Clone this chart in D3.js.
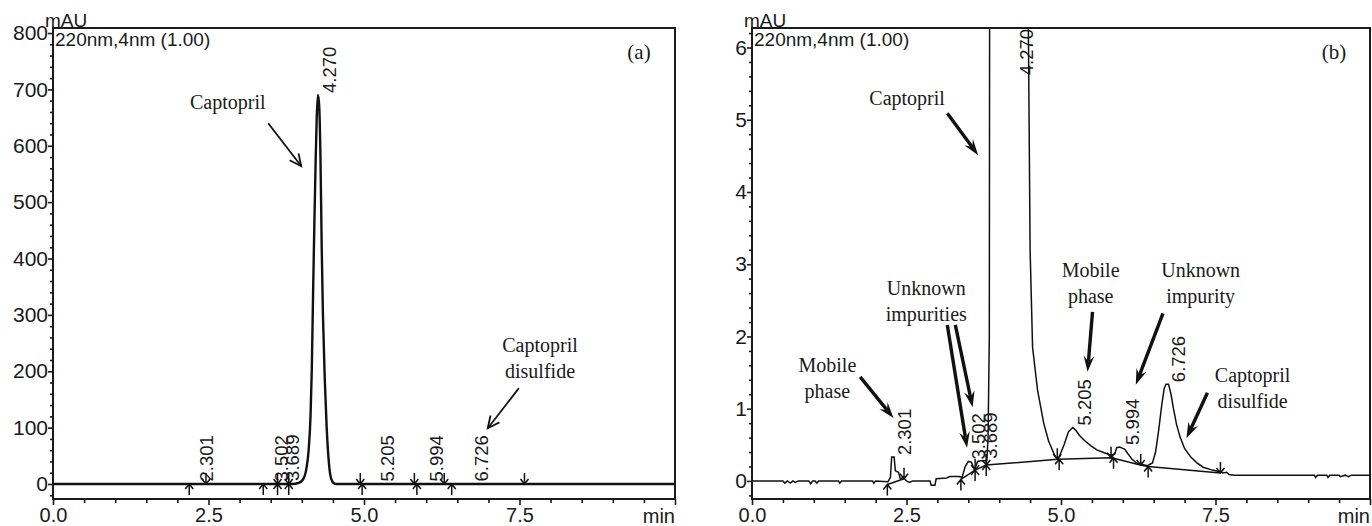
<!DOCTYPE html>
<html>
<head>
<meta charset="utf-8">
<script src="https://cdn.jsdelivr.net/npm/d3@7"></script>
<style>
  body { margin: 0; background: #fff; }
  svg text { font-family: "Liberation Sans", Arial, sans-serif; fill: #1a1a1a; }
  svg text.serif { font-family: "Liberation Serif", "Times New Roman", serif; }
</style>
</head>
<body>
<div id="chart"></div>
<script>
var svg;
var w = 1372, h = 526;

/*
 * Data (time in min, signal in mAU)
 */
var xTicks = [0, 2.5, 5, 7.5];
var yTicksA = [0, 100, 200, 300, 400, 500, 600, 700, 800];
var yTicksB = [0, 1, 2, 3, 4, 5, 6];

var peakTimes = [2.301, 3.502, 3.689, 4.270, 5.205, 5.994, 6.726];
var peakTopsA = [1, 1, 2, 690, 1, 1, 1];
var peakTopsB = [0.33, 0.27, 0.28, 700, 0.74, 0.47, 1.34];

// integration marks (peak start / peak end)
var startTimes = [2.19, 3.38, 3.61, 3.79, 4.97, 5.85, 6.41];
var endTimes = [2.46, 3.61, 3.79, 4.94, 5.81, 6.29, 7.58];
var startValsB = [-0.05, 0.02, 0.15, 0.22, 0.30, 0.32, 0.20];
var endValsB = [0.03, 0.15, 0.22, 0.30, 0.32, 0.22, 0.11];

var traceA = [
  [0, 0], [3.85, 0], [3.95, 2], [4.02, 8], [4.07, 25], [4.11, 60], [4.14, 120],
  [4.16, 200], [4.18, 330], [4.2, 450], [4.22, 560], [4.24, 650], [4.26, 690],
  [4.28, 670], [4.3, 580], [4.32, 420], [4.34, 300], [4.37, 184], [4.4, 100],
  [4.43, 45], [4.46, 15], [4.5, 3], [4.55, 0], [10, 0]
];

var traceB = [
  [0, 0], [0.5, 0], [0.53, -0.03], [0.57, 0], [0.62, -0.03], [0.66, 0], [0.7, -0.02], [0.75, 0],
  [0.92, 0], [0.95, -0.04], [0.98, 0], [1.02, 0], [1.05, -0.03], [1.08, 0], [1.4, 0],
  [1.42, -0.03], [1.45, 0], [1.95, 0], [1.97, -0.03], [2.0, 0], [2.2, -0.01], [2.24, 0.05],
  [2.26, 0.33], [2.3, 0.33], [2.32, 0.14], [2.37, 0.12], [2.4, 0.03], [2.45, 0.05],
  [2.5, 0], [2.55, -0.02], [2.6, 0], [2.88, 0], [2.9, -0.06], [2.96, -0.06], [2.98, 0.03],
  [3.15, 0.04], [3.2, 0.06], [3.35, 0.06], [3.4, 0.05], [3.45, 0.2], [3.5, 0.27],
  [3.55, 0.26], [3.6, 0.15], [3.65, 0.27], [3.7, 0.28], [3.8, 0.28], [3.82, 0.6],
  [3.84, 2], [3.845, 6.5], [3.86, 20], [4.0, 200], [4.27, 700], [4.4, 200], [4.46, 20],
  [4.47, 6.5], [4.5, 3.2], [4.54, 1.85], [4.62, 1.26], [4.72, 0.8], [4.8, 0.55],
  [4.88, 0.39], [4.93, 0.31], [4.97, 0.33], [5.05, 0.5], [5.12, 0.68], [5.19, 0.74],
  [5.24, 0.7], [5.3, 0.63], [5.38, 0.56], [5.48, 0.49], [5.58, 0.43], [5.7, 0.39],
  [5.8, 0.36], [5.87, 0.37], [5.9, 0.46], [5.95, 0.47], [6.0, 0.45], [6.03, 0.44],
  [6.08, 0.38], [6.15, 0.3], [6.22, 0.25], [6.3, 0.23], [6.4, 0.21], [6.48, 0.25],
  [6.53, 0.4], [6.58, 0.7], [6.63, 1.05], [6.67, 1.28], [6.7, 1.34], [6.74, 1.34],
  [6.78, 1.2], [6.82, 1.0], [6.87, 0.78], [6.93, 0.6], [7.0, 0.45], [7.1, 0.33],
  [7.2, 0.25], [7.3, 0.19], [7.45, 0.15], [7.55, 0.13], [7.62, 0.11], [7.68, 0.12],
  [7.72, 0.09], [7.8, 0.08], [9.1, 0.08], [9.12, 0.05], [9.15, 0.08], [9.3, 0.08],
  [9.32, 0.05], [9.35, 0.08], [9.5, 0.08], [9.52, 0.06], [9.6, 0.08], [9.65, 0.06],
  [9.7, 0.08], [10, 0.08]
];

// baselines drawn by the integrator in (b)
var baselinesB = [
  [[2.19, -0.05], [2.46, 0.03]],
  [[3.38, 0.02], [3.61, 0.15], [3.79, 0.22], [4.95, 0.30], [5.82, 0.32], [6.28, 0.22], [6.41, 0.20], [7.58, 0.11]]
];

// annotations: text lines, text centre [t, v], arrow from [t, v] to [t, v]
var notesA = [
  { lines: ["Captopril"], at: [2.81, 677], from: [3.46, 640], to: [3.99, 564] },
  { lines: ["Captopril", "disulfide"], at: [7.83, 246], from: [7.49, 170], to: [6.99, 99] }
];
var notesB = [
  { lines: ["Captopril"], at: [2.51, 5.30], from: [3.16, 5.09], to: [3.66, 4.51] },
  { lines: ["Mobile", "phase"], at: [1.22, 1.60], from: [1.75, 1.44], to: [2.29, 0.87] },
  { lines: ["Unknown", "impurities"], at: [2.82, 2.67], from: [3.16, 2.16], to: [3.48, 0.46] },
  { lines: [], at: [2.82, 2.67], from: [3.29, 2.16], to: [3.57, 1.02] },
  { lines: ["Mobile", "phase"], at: [5.48, 2.92], from: [5.51, 2.34], to: [5.43, 1.51] },
  { lines: ["Unknown", "impurity"], at: [7.26, 2.92], from: [6.65, 2.32], to: [6.21, 1.33] },
  { lines: ["Captopril", "disulfide"], at: [8.10, 1.47], from: [7.37, 1.22], to: [7.03, 0.59] }
];

function range(a, b, s) {
  var out = [];
  for (var v = a; v <= b + 1e-9; v += s) out.push(+v.toFixed(4));
  return out;
}

function arrow(g, x1, y1, x2, y2, bold) {
  var a = Math.atan2(y2 - y1, x2 - x1);
  var len = bold ? 17 : 13, s = bold ? 0.32 : 0.45;
  var lx = x2 - len * Math.cos(a - s), ly = y2 - len * Math.sin(a - s);
  var rx = x2 - len * Math.cos(a + s), ry = y2 - len * Math.sin(a + s);
  if (bold) {
    var nx = x2 - len * 0.6 * Math.cos(a), ny = y2 - len * 0.6 * Math.sin(a);
    g.append("line").attr("x1", x1).attr("y1", y1).attr("x2", nx).attr("y2", ny)
      .attr("stroke", "#111").attr("stroke-width", 3.4);
    g.append("path")
      .attr("d", "M" + x2 + "," + y2 + "L" + lx + "," + ly + "L" + nx + "," + ny + "L" + rx + "," + ry + "Z")
      .attr("fill", "#111");
  } else {
    g.append("line").attr("x1", x1).attr("y1", y1).attr("x2", x2).attr("y2", y2)
      .attr("stroke", "#111").attr("stroke-width", 1.8);
    g.append("path")
      .attr("d", "M" + lx + "," + ly + "L" + x2 + "," + y2 + "L" + rx + "," + ry)
      .attr("fill", "none").attr("stroke", "#111").attr("stroke-width", 1.8);
  }
}

/*
 * One chromatogram panel
 */
function drawPanel(p) {
  var g = svg.append("g");
  var x = d3.scaleLinear().domain([0, 10]).range([p.left, p.right]);
  var y = d3.scaleLinear().domain(p.yDomain).range([p.bottom, p.top]);

  // axes
  var xMinor = range(0, 10, 0.5).filter(function(v) { return v % 2.5 !== 0; });
  g.append("g").attr("transform", "translate(0," + p.bottom + ")")
    .call(d3.axisBottom(x).tickValues(xMinor).tickSize(4).tickFormat(""));
  var xa = g.append("g").attr("transform", "translate(0," + p.bottom + ")")
    .call(d3.axisBottom(x).tickValues(xTicks.concat([10])).tickSize(6).tickPadding(3)
      .tickFormat(function(d) { return d === 10 ? "" : d3.format(".1f")(d); }));
  xa.selectAll("text").style("font-size", "20px");
  g.append("g").attr("transform", "translate(" + p.left + ",0)")
    .call(d3.axisLeft(y).tickValues(p.yMinor).tickSize(3).tickFormat(""));
  var ya = g.append("g").attr("transform", "translate(" + p.left + ",0)")
    .call(d3.axisLeft(y).tickValues(p.yTicks).tickSize(5).tickPadding(0).tickFormat(d3.format("d")));
  ya.selectAll("text").style("font-size", "21px");
  g.selectAll(".domain").remove();
  g.selectAll(".tick line").attr("stroke", "#1a1a1a").attr("stroke-width", 1.6);

  g.append("text").attr("x", p.right).attr("y", p.bottom + 24).attr("text-anchor", "end")
    .style("font-size", "20px").text("min");
  g.append("text").attr("x", p.left - 8).attr("y", p.top - 1).style("font-size", "19px").text("mAU");
  g.append("text").attr("x", p.left + 2).attr("y", p.top + 18).style("font-size", "19px").text("220nm,4nm (1.00)");
  g.append("text").attr("class", "serif").attr("x", p.right - 36).attr("y", p.top + 31)
    .attr("text-anchor", "middle").style("font-size", "21px").text(p.tag);

  // trace
  var clipId = "clip" + p.tag.replace(/\W/g, "");
  svg.append("clipPath").attr("id", clipId).append("rect")
    .attr("x", p.left).attr("y", p.top).attr("width", p.right - p.left).attr("height", p.bottom - p.top);
  var line = d3.line().x(function(d) { return x(d[0]); }).y(function(d) { return y(d[1]); });
  g.append("path").datum(p.trace).attr("clip-path", "url(#" + clipId + ")")
    .attr("d", line.curve(p.curve)).attr("fill", "none")
    .attr("stroke", "#111").attr("stroke-width", p.lineW);
  p.baselines.forEach(function(b) {
    g.append("path").datum(b).attr("d", d3.line().x(function(d) { return x(d[0]); }).y(function(d) { return y(d[1]); }))
      .attr("fill", "none").attr("stroke", "#111").attr("stroke-width", 1.5);
  });

  // integration marks
  startTimes.forEach(function(t, i) {
    var mx = x(t), my = y(p.startVals[i]);
    g.append("path").attr("d", "M" + mx + "," + (my + 11) + "V" + my + "M" + (mx - 4) + "," + (my + 5) + "L" + mx + "," + my + "L" + (mx + 4) + "," + (my + 5))
      .attr("fill", "none").attr("stroke", "#111").attr("stroke-width", 1.5);
  });
  endTimes.forEach(function(t, i) {
    var mx = x(t), my = y(p.endVals[i]);
    g.append("path").attr("d", "M" + mx + "," + (my - 11) + "V" + my + "M" + (mx - 4) + "," + (my - 5) + "L" + mx + "," + my + "L" + (mx + 4) + "," + (my - 5))
      .attr("fill", "none").attr("stroke", "#111").attr("stroke-width", 1.5);
  });

  // retention time labels
  peakTimes.forEach(function(t, i) {
    var lbl = g.append("text").style("font-size", "18.5px").text(d3.format(".3f")(t));
    var len = lbl.node().getComputedTextLength();
    var ly = Math.max(y(p.tops[i]) - 2, p.top + len + 1);
    lbl.attr("transform", "translate(" + (x(t) + 17) + "," + ly + ") rotate(-90)");
  });

  // annotations
  p.notes.forEach(function(n) {
    n.lines.forEach(function(s, k) {
      g.append("text").attr("class", "serif").attr("x", x(n.at[0]))
        .attr("y", y(n.at[1]) + 7 + k * 26).attr("text-anchor", "middle")
        .style("font-size", "20px").text(s);
    });
    arrow(g, x(n.from[0]), y(n.from[1]), x(n.to[0]), y(n.to[1]), p.bold);
  });

  // frame
  g.append("rect").attr("x", p.left).attr("y", p.top).attr("width", p.right - p.left)
    .attr("height", p.bottom - p.top).attr("fill", "none").attr("stroke", "#1a1a1a").attr("stroke-width", 2);
}

var init = function() {
  svg = d3.select("#chart").append("svg").attr("width", w).attr("height", h);

  drawPanel({
    tag: "(a)", left: 53, right: 675, top: 28, bottom: 499,
    yDomain: [-26.6, 808.9], yTicks: yTicksA, yMinor: range(-20, 800, 20).filter(function(v) { return v % 100 !== 0; }),
    trace: traceA, curve: d3.curveMonotoneX, lineW: 2.4, baselines: [],
    startVals: startTimes.map(function() { return 0; }), endVals: endTimes.map(function() { return 0; }),
    tops: peakTopsA, notes: notesA, bold: false
  });

  drawPanel({
    tag: "(b)", left: 752, right: 1370, top: 28, bottom: 499,
    yDomain: [-0.25, 6.27], yTicks: yTicksB, yMinor: range(-0.2, 6.2, 0.2).filter(function(v) { return Math.abs(v - Math.round(v)) > 1e-6; }),
    trace: traceB, curve: d3.curveLinear, lineW: 1.5, baselines: baselinesB,
    startVals: startValsB, endVals: endValsB,
    tops: peakTopsB, notes: notesB, bold: true
  });
};

init();
</script>
</body>
</html>
